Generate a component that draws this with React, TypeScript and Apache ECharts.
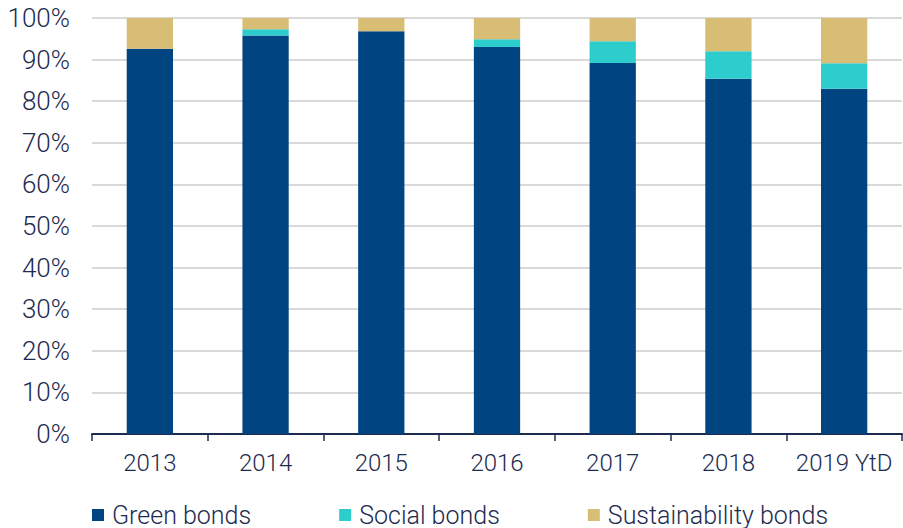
import React, { useEffect, useRef } from "react";
import * as echarts from "echarts";

const categories = ["2013", "2014", "2015", "2016", "2017", "2018", "2019 YtD"];
const greenBonds = [92.6, 95.8, 96.8, 93.0, 89.2, 85.4, 83.0];
const socialBonds = [0, 1.5, 0, 1.9, 5.2, 6.6, 6.1];
const sustainabilityBonds = [7.4, 2.7, 3.2, 5.1, 5.6, 8.0, 10.9];

const FONT = "Roboto";
const TEXT = "#1d2b4f";

export default function App() {
  const ref = useRef<HTMLDivElement>(null);
  useEffect(() => {
    const chart = echarts.init(ref.current!, null, { renderer: "svg" });
    const mk = (name: string, data: number[], color: string) => ({
      name,
      type: "bar",
      stack: "total",
      data,
      barWidth: "40%",
      itemStyle: { color },
    });
    chart.setOption({
      animation: false,
      textStyle: { fontFamily: FONT },
      grid: { left: 92, right: 1, top: 18, bottom: 94 },
      legend: {
        top: 502,
        left: 92,
        padding: 0,
        itemWidth: 12,
        itemHeight: 12,
        itemGap: 88,
        icon: "rect",
        textStyle: {
          fontSize: 25,
          lineHeight: 26,
          color: TEXT,
          fontFamily: FONT,
          fontWeight: 300,
          padding: [0, 0, 0, 3],
        },
        data: ["Green bonds", "Social bonds", "Sustainability bonds"],
      },
      xAxis: {
        type: "category",
        data: categories,
        axisLine: { lineStyle: { color: TEXT, width: 2 } },
        axisTick: { show: true, length: 7, lineStyle: { color: TEXT, width: 1.5 } },
        axisLabel: {
          interval: 0,
          fontSize: 24,
          color: TEXT,
          margin: 17,
          fontFamily: FONT,
          fontWeight: 300,
        },
      },
      yAxis: {
        type: "value",
        min: 0,
        max: 100,
        interval: 10,
        axisLabel: {
          fontSize: 26,
          color: TEXT,
          margin: 22,
          formatter: "{value}%",
          fontFamily: FONT,
          fontWeight: 300,
        },
        splitLine: { lineStyle: { color: "#d9d9d9", width: 2 } },
        axisLine: { show: false },
        axisTick: { show: false },
      },
      series: [
        mk("Green bonds", greenBonds, "#004481"),
        mk("Social bonds", socialBonds, "#2dcccd"),
        mk("Sustainability bonds", sustainabilityBonds, "#d8be75"),
      ],
    });
    return () => chart.dispose();
  }, []);
  return (
    <div
      ref={ref}
      style={{ position: "fixed", left: 0, top: 0, width: 903, height: 528, background: "#fff" }}
    />
  );
}
